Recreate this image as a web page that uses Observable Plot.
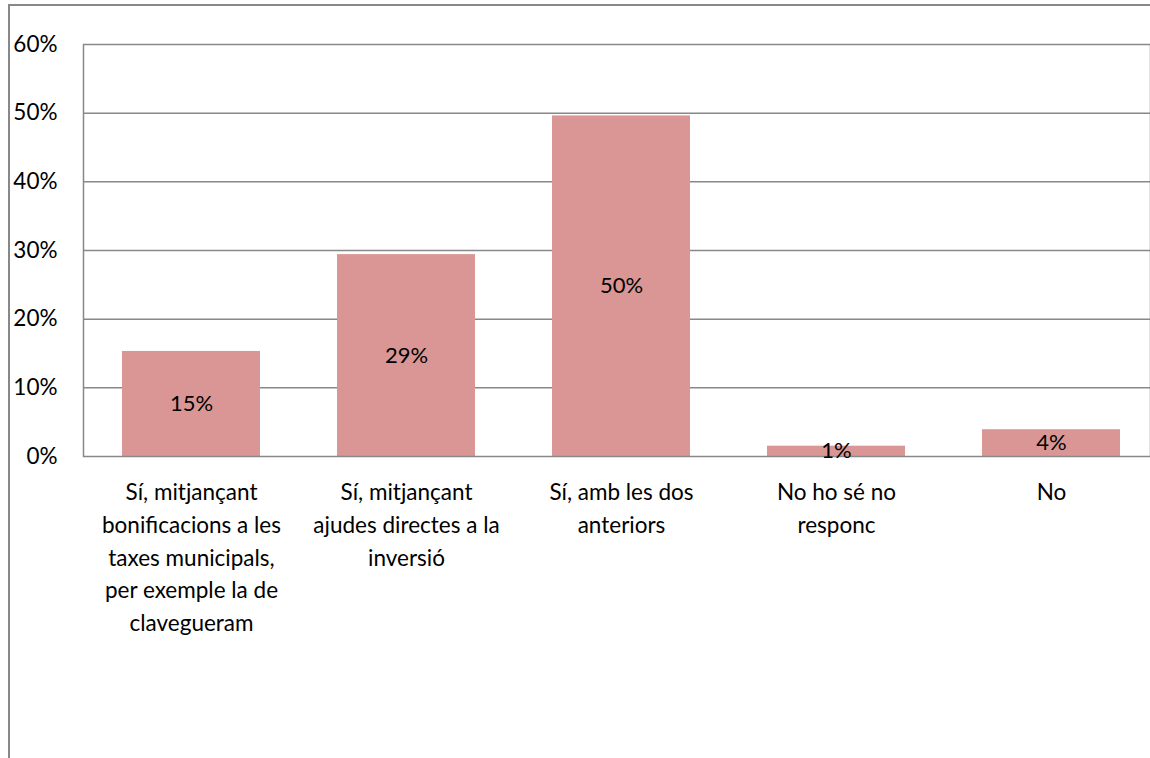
<!DOCTYPE html>
<html><head><meta charset="utf-8">
<script src="https://cdn.jsdelivr.net/npm/d3@7"></script>
<script src="https://cdn.jsdelivr.net/npm/@observablehq/plot@0.6"></script>
<style>
body{margin:0;background:#fff;}
#wrap{position:relative;width:1150px;height:758px;overflow:hidden;}
#border{position:absolute;left:8px;top:4px;width:1200px;height:800px;border-left:2px solid #888;border-top:2px solid #888;}
svg{position:absolute;left:0;top:0;}
</style></head><body>
<div id="wrap"><div id="border"></div></div>
<script>
const categories = ["cat1","cat2","cat3","cat4","cat5"];
const tickLabels = [
  "Sí, mitjançant\nbonificacions a les\ntaxes municipals,\nper exemple la de\nclavegueram",
  "Sí, mitjançant\najudes directes a la\ninversió",
  "Sí, amb les dos\nanteriors",
  "No ho sé no\nresponc",
  "No"
];
const values = [0.153, 0.294, 0.496, 0.015, 0.039];
const valueLabels = ["15%","29%","50%","1%","4%"];
const yTicks = [0,0.1,0.2,0.3,0.4,0.5,0.6];

const data = categories.map((c,i)=>({cat:c, v:values[i], label:valueLabels[i]}));
const chart = Plot.plot({
  width:1150, height:758,
  marginLeft:83, marginTop:44, marginBottom:302, marginRight:0,
  style:{fontFamily:"Lato, sans-serif", fontSize:"22px", color:"#000", background:"transparent"},
  x:{domain:categories, range:[83,1158], paddingInner:0.36, paddingOuter:0.18, align:0.5},
  y:{domain:[0,0.6]},
  marks:[
    Plot.gridY(yTicks.slice(1,-1), {stroke:"#888", strokeOpacity:1, strokeWidth:1.5}),
    Plot.barY(data, {x:"cat", y:"v", fill:"#D99694"}),
    Plot.frame({stroke:"#888", strokeWidth:1.5}),
    Plot.text(data, {x:"cat", y:d=>d.v/2, text:"label", fill:"#000", fontSize:22}),
    Plot.axisY({ticks:yTicks, tickFormat:d=>Math.round(d*100)+"%", tickSize:0, tickPadding:26, fontSize:22.5, label:null}),
    Plot.axisX({tickSize:0, tickPadding:20, fontSize:22.5, label:null, lineHeight:1.46,
      tickFormat:(d)=>tickLabels[categories.indexOf(d)], lineWidth:100})
  ]
});
document.getElementById("wrap").appendChild(chart);
</script>
</body></html>
